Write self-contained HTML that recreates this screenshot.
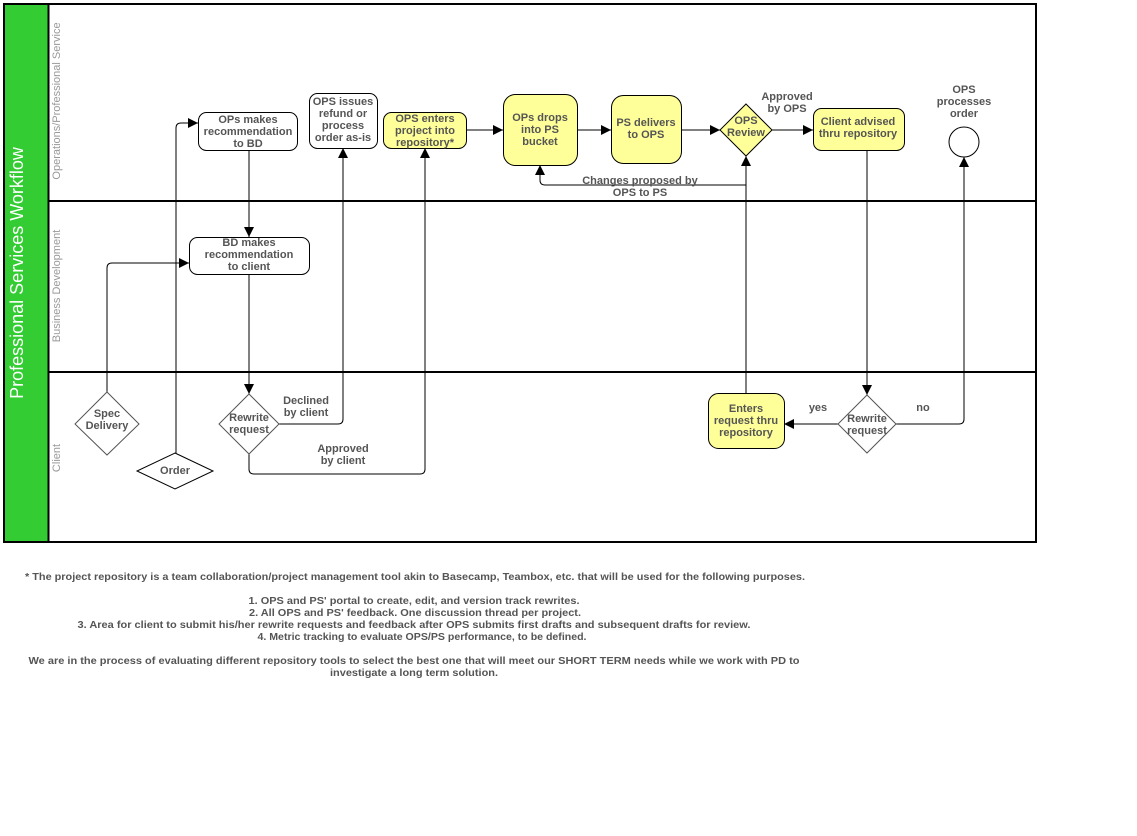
<!DOCTYPE html>
<html>
<head>
<meta charset="utf-8">
<style>
  html,body{margin:0;padding:0;background:#fff;}
  svg{display:block;}
  .t{font-family:"Liberation Sans",Arial,sans-serif;font-size:11px;font-weight:bold;fill:#555;text-anchor:middle;}
  .f{font-family:"Liberation Sans",Arial,sans-serif;font-size:10px;font-weight:bold;fill:#555;text-anchor:middle;}
  .lane{font-family:"Liberation Sans",Arial,sans-serif;font-size:11px;fill:#999;text-anchor:middle;}
  .c{fill:none;stroke:#000;stroke-width:1;}
</style>
</head>
<body>
<svg width="1137" height="836" viewBox="0 0 1137 836" xmlns="http://www.w3.org/2000/svg">
  <defs>
    <marker id="a" viewBox="0 0 10 10" refX="10" refY="5" markerWidth="10" markerHeight="10" markerUnits="userSpaceOnUse" orient="auto">
      <path d="M0,0 L10,5 L0,10 z" fill="#000"/>
    </marker>
  </defs>

  <!-- frame -->
  <rect x="4" y="4" width="44" height="538" fill="#33cc33"/>
  <rect x="4" y="4" width="1032" height="538" fill="none" stroke="#000" stroke-width="2"/>
  <line x1="48.5" y1="3" x2="48.5" y2="543" stroke="#000" stroke-width="2"/>
  <line x1="48" y1="201" x2="1037" y2="201" stroke="#000" stroke-width="2"/>
  <line x1="48" y1="372" x2="1037" y2="372" stroke="#000" stroke-width="2"/>

  <text transform="translate(23,273) rotate(-90)" font-family="'Liberation Sans',Arial,sans-serif" font-size="18" fill="#fff" text-anchor="middle">Professional Services Workflow</text>

  <text class="lane" transform="translate(60,101) rotate(-90)">Operations/Professional Service</text>
  <text class="lane" transform="translate(60,286) rotate(-90)">Business Development</text>
  <text class="lane" transform="translate(60,458) rotate(-90)">Client</text>

  <!-- connectors -->
  <path class="c" d="M176,453 V128 Q176,123 181,123 H198" marker-end="url(#a)"/>
  <path class="c" d="M107,392 V268 Q107,263 112,263 H189" marker-end="url(#a)"/>
  <path class="c" d="M249,150 V237" marker-end="url(#a)"/>
  <path class="c" d="M249,274 V394" marker-end="url(#a)"/>
  <path class="c" d="M279,424 H338 Q343,424 343,419 V148" marker-end="url(#a)"/>
  <path class="c" d="M249,454 V469 Q249,474 254,474 H420 Q425,474 425,469 V148" marker-end="url(#a)"/>
  <path class="c" d="M466,130 H503" marker-end="url(#a)"/>
  <path class="c" d="M577,130 H611" marker-end="url(#a)"/>
  <path class="c" d="M681,130 H720" marker-end="url(#a)"/>
  <path class="c" d="M772,130 H813" marker-end="url(#a)"/>
  <path class="c" d="M746,185 H545 Q540,185 540,180 V165" marker-end="url(#a)"/>
  <path class="c" d="M746,393 V156" marker-end="url(#a)"/>
  <path class="c" d="M867,150 V395" marker-end="url(#a)"/>
  <path class="c" d="M838,424 H784" marker-end="url(#a)"/>
  <path class="c" d="M896,424 H959 Q964,424 964,419 V157" marker-end="url(#a)"/>

  <!-- nodes -->
  <rect x="198.5" y="112.5" width="99" height="38" rx="8" fill="#fff" stroke="#000"/>
  <text class="t" x="248" y="123">OPs makes</text>
  <text class="t" x="248" y="135">recommendation</text>
  <text class="t" x="248" y="147">to BD</text>

  <rect x="309.5" y="93.5" width="68" height="55" rx="8" fill="#fff" stroke="#000"/>
  <text class="t" x="343" y="105">OPS issues</text>
  <text class="t" x="343" y="117">refund or</text>
  <text class="t" x="343" y="129">process</text>
  <text class="t" x="343" y="141">order as-is</text>

  <rect x="383.5" y="112.5" width="83" height="36" rx="8" fill="#ffff99" stroke="#000"/>
  <text class="t" x="425" y="122">OPS enters</text>
  <text class="t" x="425" y="134">project into</text>
  <text class="t" x="425" y="146">repository*</text>

  <rect x="189.5" y="237.5" width="120" height="37" rx="8" fill="#fff" stroke="#000"/>
  <text class="t" x="249" y="246">BD makes</text>
  <text class="t" x="249" y="258">recommendation</text>
  <text class="t" x="249" y="270">to client</text>

  <rect x="503.5" y="94.5" width="74" height="71" rx="12" fill="#ffff99" stroke="#000"/>
  <text class="t" x="540" y="121">OPs drops</text>
  <text class="t" x="540" y="133">into PS</text>
  <text class="t" x="540" y="145">bucket</text>

  <rect x="611.5" y="95.5" width="70" height="68" rx="12" fill="#ffff99" stroke="#000"/>
  <text class="t" x="646" y="126">PS delivers</text>
  <text class="t" x="646" y="138">to OPS</text>

  <polygon points="746,104 772,130 746,156 720,130" fill="#ffff99" stroke="#000"/>
  <text class="t" x="746" y="124">OPS</text>
  <text class="t" x="746" y="136">Review</text>

  <text class="t" x="787" y="100">Approved</text>
  <text class="t" x="787" y="112">by OPS</text>

  <rect x="813.5" y="108.5" width="91" height="42" rx="8" fill="#ffff99" stroke="#000"/>
  <text class="t" x="858" y="125">Client advised</text>
  <text class="t" x="858" y="137">thru repository</text>

  <text class="t" x="964" y="93">OPS</text>
  <text class="t" x="964" y="105">processes</text>
  <text class="t" x="964" y="117">order</text>
  <circle cx="964" cy="142" r="15" fill="#fff" stroke="#000"/>

  <text class="t" x="640" y="184">Changes proposed by</text>
  <text class="t" x="640" y="196">OPS to PS</text>

  <rect x="708.5" y="393.5" width="76" height="55" rx="10" fill="#ffff99" stroke="#000"/>
  <text class="t" x="746" y="412">Enters</text>
  <text class="t" x="746" y="424">request thru</text>
  <text class="t" x="746" y="436">repository</text>

  <polygon points="867,395 896,424 867,453 838,424" fill="#fff" stroke="#555"/>
  <text class="t" x="867" y="422">Rewrite</text>
  <text class="t" x="867" y="434">request</text>
  <text class="t" x="818" y="411">yes</text>
  <text class="t" x="923" y="411">no</text>

  <polygon points="107,392 139,424 107,455 75,424" fill="#fff" stroke="#555"/>
  <text class="t" x="107" y="417">Spec</text>
  <text class="t" x="107" y="429">Delivery</text>

  <polygon points="175,453 213,471 175,489 137,471" fill="#fff" stroke="#000"/>
  <text class="t" x="175" y="474">Order</text>

  <polygon points="249,394 279,424 249,454 219,424" fill="#fff" stroke="#555"/>
  <text class="t" x="249" y="421">Rewrite</text>
  <text class="t" x="249" y="433">request</text>

  <text class="t" x="306" y="404">Declined</text>
  <text class="t" x="306" y="416">by client</text>
  <text class="t" x="343" y="452">Approved</text>
  <text class="t" x="343" y="464">by client</text>

  <!-- footnote -->
  <text class="f" x="415" y="580" textLength="780" lengthAdjust="spacingAndGlyphs">* The project repository is a team collaboration/project management tool akin to Basecamp, Teambox, etc. that will be used for the following purposes.</text>
  <text class="f" x="414" y="604" textLength="331" lengthAdjust="spacingAndGlyphs">1. OPS and PS' portal to create, edit, and version track rewrites.</text>
  <text class="f" x="415" y="616" textLength="332" lengthAdjust="spacingAndGlyphs">2. All OPS and PS' feedback. One discussion thread per project.</text>
  <text class="f" x="414" y="628" textLength="673" lengthAdjust="spacingAndGlyphs">3. Area for client to submit his/her rewrite requests and feedback after OPS submits first drafts and subsequent drafts for review.</text>
  <text class="f" x="422" y="640" textLength="329" lengthAdjust="spacingAndGlyphs">4. Metric tracking to evaluate OPS/PS performance, to be defined.</text>
  <text class="f" x="414" y="664" textLength="771" lengthAdjust="spacingAndGlyphs">We are in the process of evaluating different repository tools to select the best one that will meet our SHORT TERM needs while we work with PD to</text>
  <text class="f" x="414" y="676" textLength="168" lengthAdjust="spacingAndGlyphs">investigate a long term solution.</text>
</svg>
</body>
</html>
